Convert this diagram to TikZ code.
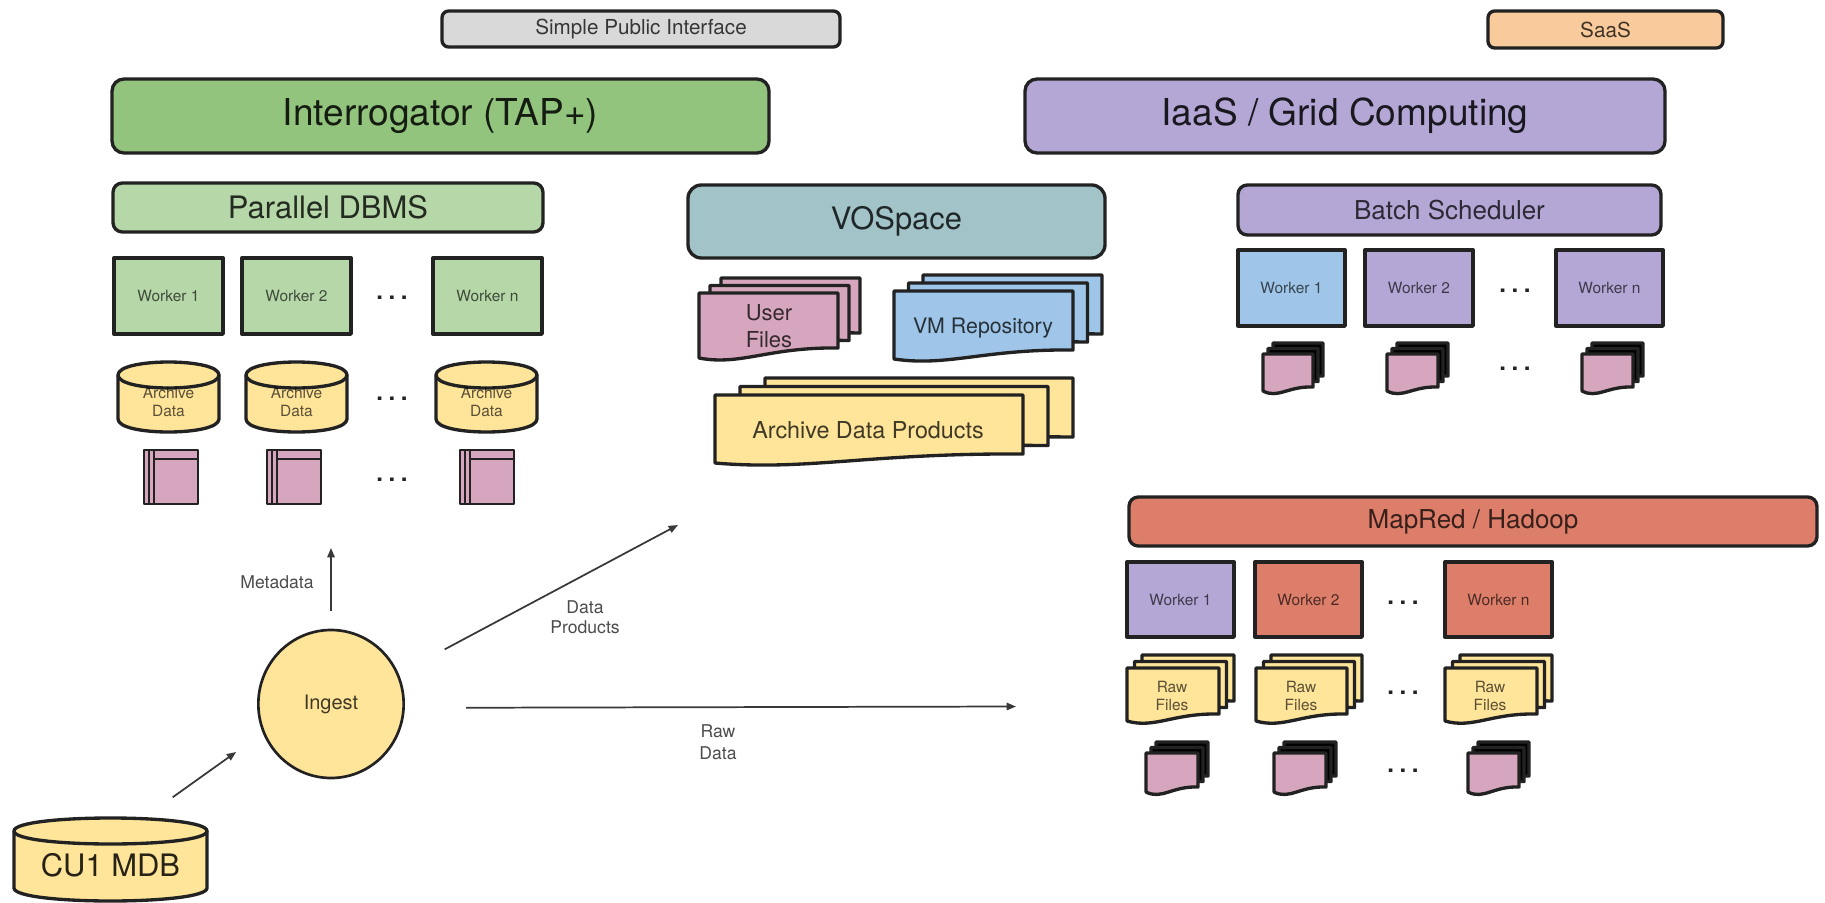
\documentclass[tikz,border=0pt]{standalone}
\usepackage{fontspec}
\setmainfont{TeX Gyre Heros}
\usetikzlibrary{arrows.meta,shapes.geometric}
\definecolor{cGreen}{HTML}{93C47D}
\definecolor{cLGreen}{HTML}{B6D7A8}
\definecolor{cGrey}{HTML}{D9D9D9}
\definecolor{cOrange}{HTML}{F9CB9C}
\definecolor{cPurple}{HTML}{B4A7D6}
\definecolor{cTeal}{HTML}{A2C4C9}
\definecolor{cBlue}{HTML}{9FC5E8}
\definecolor{cYellow}{HTML}{FFE599}
\definecolor{cPink}{HTML}{D5A6BD}
\definecolor{cRed}{HTML}{DD7E6B}
\definecolor{cLine}{HTML}{222222}
\newcommand{\pxfont}[2]{\fontsize{#1pt}{#2pt}\selectfont}
\tikzset{
  x=0.75pt,y=-0.75pt,
  outline/.style={draw=cLine,line width=2.5pt,line join=round},
  txt/.style={inner sep=0pt,align=center},
  bigtxt/.style={txt,text opacity=.85,font=\pxfont{27.8}{32}},
  midtxt/.style={txt,text opacity=.8,font=\pxfont{23.2}{28}},
  subtxt/.style={txt,text opacity=.75,font=\pxfont{19.5}{24}},
  doctxt/.style={txt,text opacity=.75,font=\pxfont{16}{20}},
  tinytxt/.style={txt,text opacity=.65,font=\pxfont{11.6}{13.5}},
  flowtxt/.style={txt,text opacity=.7,font=\pxfont{13.2}{15}},
  flow/.style={draw=cLine!90,line width=1.3pt,-{Triangle[length=7pt,width=5.5pt]}},
  dotsnode/.style={inner sep=0pt,anchor=base,text=cLine,font=\bfseries\pxfont{18}{18}}
}
% #1 name, #2 x1, #3 y1, #4 x2, #5 y2, #6 options, #7 text
\newcommand{\boxnode}[7]{%
  \pgfmathsetlengthmacro{\bw}{(#4-#2)*0.75pt}%
  \pgfmathsetlengthmacro{\bh}{(#5-#3)*0.75pt}%
  \node[outline,inner sep=0pt,align=center,minimum width=\bw,minimum height=\bh,#6] (#1) at ({(#2+#4)/2},{(#3+#5)/2}) {#7};%
}
\newcommand{\dotsat}[3]{\node[dotsnode] (#1) at (#2,{#3+3}) {.\kern4.2pt.\kern4.2pt.};}
% #1 x1 #2 y1 #3 x2 #4 yr #5 yl, #6 fill
\newcommand{\docpath}[6]{%
  \pgfmathsetmacro{\dw}{#3-#1}%
  \path[outline,fill=#6] ({#1},{#2}) -- ({#3},{#2}) -- ({#3},{#4})
    .. controls ({#1+.5*\dw},{#4-1}) and ({#1+.3*\dw},{#5+5}) .. ({#1},{#5-3}) -- cycle;%
}
% #1 x1 #2 y1 #3 x2 #4 yr #5 yl #6 dx #7 dy #8 front fill #9 back fill
\newcommand{\docstack}[9]{%
  \docpath{#1+2*#6}{#2+2*#7}{#3+2*#6}{#4+2*#7}{#4+2*#7}{#9}%
  \docpath{#1+#6}{#2+#7}{#3+#6}{#4+#7}{#4+#7}{#9}%
  \docpath{#1}{#2}{#3}{#4}{#5}{#8}%
}
% #1 name #2 x1 #3 ytop #4 x2 #5 ybot #6 ry #7 text style #8 text
\newcommand{\cylnode}[8]{%
  \path[outline,fill=cYellow] (#2,{#3+#6}) -- (#2,{#5-#6})
    .. controls (#2,{#5+#6/3}) and (#4,{#5+#6/3}) .. (#4,{#5-#6}) -- (#4,{#3+#6})
    .. controls (#4,{#3-#6/3}) and (#2,{#3-#6/3}) .. (#2,{#3+#6}) -- cycle;%
  \path[outline] (#2,{#3+#6}) .. controls (#2,{#3+#6+#6*4/3}) and (#4,{#3+#6+#6*4/3}) .. (#4,{#3+#6});%
  \boxnode{#1}{#2}{#3}{#4}{#5}{draw=none,#7,text depth=0pt,yshift=-4pt}{#8}%
}
% #1 x1 #2 y1 #3 x2 #4 y2
\newcommand{\bookshape}[4]{%
  \path[outline,line width=2.2pt,fill=cPink] (#1,#2) rectangle (#3,#4);%
  \path[draw=cLine,line width=1.6pt] ({#1+5},#2) -- ({#1+5},#4);%
  \path[draw=cLine,line width=1.6pt] ({#1+10},#2) -- ({#1+10},#4);%
  \path[draw=cLine,line width=1.6pt] ({#1+10},{#2+9}) -- (#3,{#2+9});%
}
\begin{document}
\begin{tikzpicture}
\useasboundingbox (0,0) rectangle (1825,903);
\fill[white] (0,0) rectangle (1825,903);

% top bars
\boxnode{spi}{442}{11}{840}{47}{fill=cGrey,rounded corners=5pt,subtxt,font=\pxfont{15.5}{18}}{Simple Public Interface}
\boxnode{saas}{1488}{11}{1723}{48}{fill=cOrange,rounded corners=5pt,subtxt,font=\pxfont{15.5}{18}}{SaaS}
\boxnode{interrogator}{112}{79}{769}{153}{fill=cGreen,rounded corners=9pt,bigtxt}{\raisebox{-1.2pt}{Interrogator (TAP+)}}
\boxnode{iaas}{1025}{79}{1665}{153}{fill=cPurple,rounded corners=9pt,bigtxt}{\raisebox{-1.2pt}{IaaS / Grid Computing}}

% Parallel DBMS
\boxnode{dbms}{113}{183}{543}{232}{fill=cLGreen,rounded corners=7pt,midtxt}{Parallel DBMS}
\boxnode{dw1}{114}{258}{223}{334}{fill=cLGreen,tinytxt}{Worker 1}
\boxnode{dw2}{242}{258}{351}{334}{fill=cLGreen,tinytxt}{Worker 2}
\boxnode{dwn}{433}{258}{542}{334}{fill=cLGreen,tinytxt}{Worker n}
\dotsat{dd1}{392}{296}
\cylnode{ad1}{118}{362}{219}{432}{13}{tinytxt}{Archive\\Data}
\cylnode{ad2}{246}{362}{347}{432}{13}{tinytxt}{Archive\\Data}
\cylnode{adn}{436}{362}{537}{432}{13}{tinytxt}{Archive\\Data}
\dotsat{dd2}{392}{397}
\bookshape{144}{450}{198}{504}
\bookshape{267}{450}{321}{504}
\bookshape{460}{450}{514}{504}
\dotsat{dd3}{392}{478}

% VOSpace
\boxnode{vospace}{688}{185}{1105}{258}{fill=cTeal,rounded corners=10pt,midtxt}{\raisebox{-1.5pt}{VOSpace}}
\docstack{699}{293}{838}{348}{361}{11}{-7.5}{cPink}{cPink}
\node[txt,text opacity=.75,font=\pxfont{16.5}{20}] (userfiles) at (769,326) {User\\Files};
\docstack{894}{291}{1073}{350}{362}{14.5}{-8}{cBlue}{cBlue}
\node[doctxt] (vmrepo) at (983,328) {VM Repository};
\docstack{715}{395}{1023}{454}{466}{25}{-8.5}{cYellow}{cYellow}
\node[txt,text opacity=.75,font=\pxfont{17.5}{20}] (adp) at (868,430) {Archive Data Products};

% Batch Scheduler
\boxnode{batch}{1238}{185}{1661}{235}{fill=cPurple,rounded corners=7pt,subtxt}{Batch Scheduler}
\boxnode{bw1}{1238}{250}{1345}{326}{fill=cBlue,tinytxt}{Worker 1}
\boxnode{bw2}{1365}{250}{1473}{326}{fill=cPurple,tinytxt}{Worker 2}
\boxnode{bwn}{1556}{250}{1663}{326}{fill=cPurple,tinytxt}{Worker n}
\dotsat{bd1}{1515}{289}
\docstack{1263}{354}{1313}{387}{394}{5}{-5.5}{cPink}{black}
\docstack{1387}{354}{1438}{387}{394}{5}{-5.5}{cPink}{black}
\docstack{1582}{354}{1633}{387}{394}{5}{-5.5}{cPink}{black}
\dotsat{bd2}{1515}{367}

% MapRed / Hadoop
\boxnode{mapred}{1129}{497}{1817}{546}{fill=cRed,rounded corners=7pt,subtxt}{MapRed / Hadoop}
\boxnode{mw1}{1127}{562}{1234}{637}{fill=cPurple,tinytxt}{Worker 1}
\boxnode{mw2}{1255}{562}{1362}{637}{fill=cRed,tinytxt}{Worker 2}
\boxnode{mwn}{1445}{562}{1552}{637}{fill=cRed,tinytxt}{Worker n}
\dotsat{md1}{1403}{601}
\docstack{1127}{668}{1219}{714}{724}{7.5}{-6.5}{cYellow}{cYellow}
\node[tinytxt] (rf1) at (1172,696) {Raw\\Files};
\docstack{1256}{668}{1347}{714}{724}{7.5}{-6.5}{cYellow}{cYellow}
\node[tinytxt] (rf2) at (1301,696) {Raw\\Files};
\docstack{1445}{668}{1537}{714}{724}{7.5}{-6.5}{cYellow}{cYellow}
\node[tinytxt] (rfn) at (1490,696) {Raw\\Files};
\dotsat{md2}{1403}{691}
\docstack{1146}{753}{1198}{787}{795}{5}{-5.5}{cPink}{black}
\docstack{1274}{753}{1326}{787}{795}{5}{-5.5}{cPink}{black}
\docstack{1468}{753}{1519}{787}{795}{5}{-5.5}{cPink}{black}
\dotsat{md3}{1403}{769}

% Ingest and source
\node[ellipse,draw=cLine,line width=2pt,fill=cYellow,inner sep=0pt,minimum width=109pt,minimum height=111pt,font=\pxfont{15}{18},text opacity=.75] (ingest) at (331,704) {Ingest};
\cylnode{cu1}{14}{818}{207}{901}{13}{txt,text opacity=.85,font=\pxfont{23.2}{28}}{CU1 MDB}

% free ends of the connectors
\coordinate (metaEnd) at (331,548);
\coordinate (dataEnd) at (678,525);
\coordinate (rawEnd) at (1016,706.5);

% connectors
\draw[flow,shorten <=31.5pt,shorten >=24.5pt] (cu1.57.6) -- (ingest.203.4);
\draw[flow,shorten <=13.5pt] (ingest.north) -- (metaEnd);
\draw[flow,shorten <=39pt] (ingest.24) -- (dataEnd);
\draw[flow,shorten <=46pt] (ingest.-3.4) -- (rawEnd);

% connector labels
\node[flowtxt] (metalabel) at (277,582) {Metadata};
\node[flowtxt] (datalabel) at (585,617) {Data\\Products};
\node[flowtxt,font=\pxfont{13.2}{16.5}] (rawlabel) at (718,742) {Raw\\Data};
\end{tikzpicture}
\end{document}
